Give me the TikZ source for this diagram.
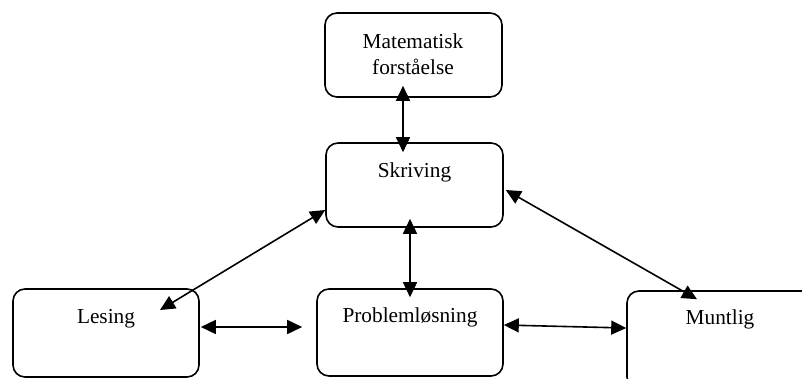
\documentclass[tikz,border=0pt]{standalone}
\usepackage{fontspec}
\setmainfont{Liberation Serif}
\usetikzlibrary{arrows.meta}
\begin{document}
\begin{tikzpicture}[x=1pt,y=-1pt,
  box/.style={draw, line width=1.6pt, rounded corners=12pt, rectangle, inner sep=0pt},
  txt/.style={font=\fontsize{21.3}{26}\selectfont, inner sep=0pt, anchor=base},
  arr/.style={line width=1.6pt, {Triangle[length=15pt,width=14pt]}-{Triangle[length=15pt,width=14pt]}}]
\useasboundingbox (0,0) rectangle (802,378);
\clip (0,0) rectangle (802,378);
\fill[white] (0,0) rectangle (802,378);
% boxes
\node[box, minimum width=177pt, minimum height=84pt] (M) at (413.5,55) {};
\node[box, minimum width=177pt, minimum height=84pt] (S) at (414.5,185) {};
\node[box, minimum width=186pt, minimum height=88pt] (L) at (106,333) {};
\node[box, minimum width=186pt, minimum height=87pt] (P) at (410,332.5) {};
\node[box, minimum width=206pt, minimum height=98pt] (Mu) at (730,340) {};
% texts
\node[txt, anchor=center, align=center] (Mt) at (413,54) {Matematisk\\forståelse};
\node[txt] (St) at ([yshift=-35pt]S.north) {Skriving};
\node[txt] (Lt) at ([yshift=-35pt]L.north) {Lesing};
\node[txt] (Pt) at ([yshift=-34pt]P.north) {Problemløsning};
\node[txt] (Mut) at ([xshift=-10pt,yshift=-34pt]Mu.north) {Muntlig};
% connectors
\draw[arr] ([xshift=-10.5pt,yshift=12pt]M.south) -- ([xshift=-11.5pt,yshift=-10pt]S.north);
\draw[arr] ([xshift=-4.5pt,yshift=9pt]S.south) -- ([yshift=-9pt]P.north);
\draw[arr] ([xshift=54pt,yshift=23pt]L.center) -- ([yshift=-25pt]S.west);
\draw[arr] ([xshift=1pt,yshift=6pt]L.east) -- ([xshift=-14pt,yshift=5.5pt]P.west);
\draw[arr] ([yshift=7.5pt]P.east) -- ([yshift=12pt]Mu.west);
\draw[arr] ([xshift=2pt,yshift=-5pt]S.east) -- ([xshift=-33pt,yshift=-9pt]Mu.north);
\end{tikzpicture}
\end{document}
